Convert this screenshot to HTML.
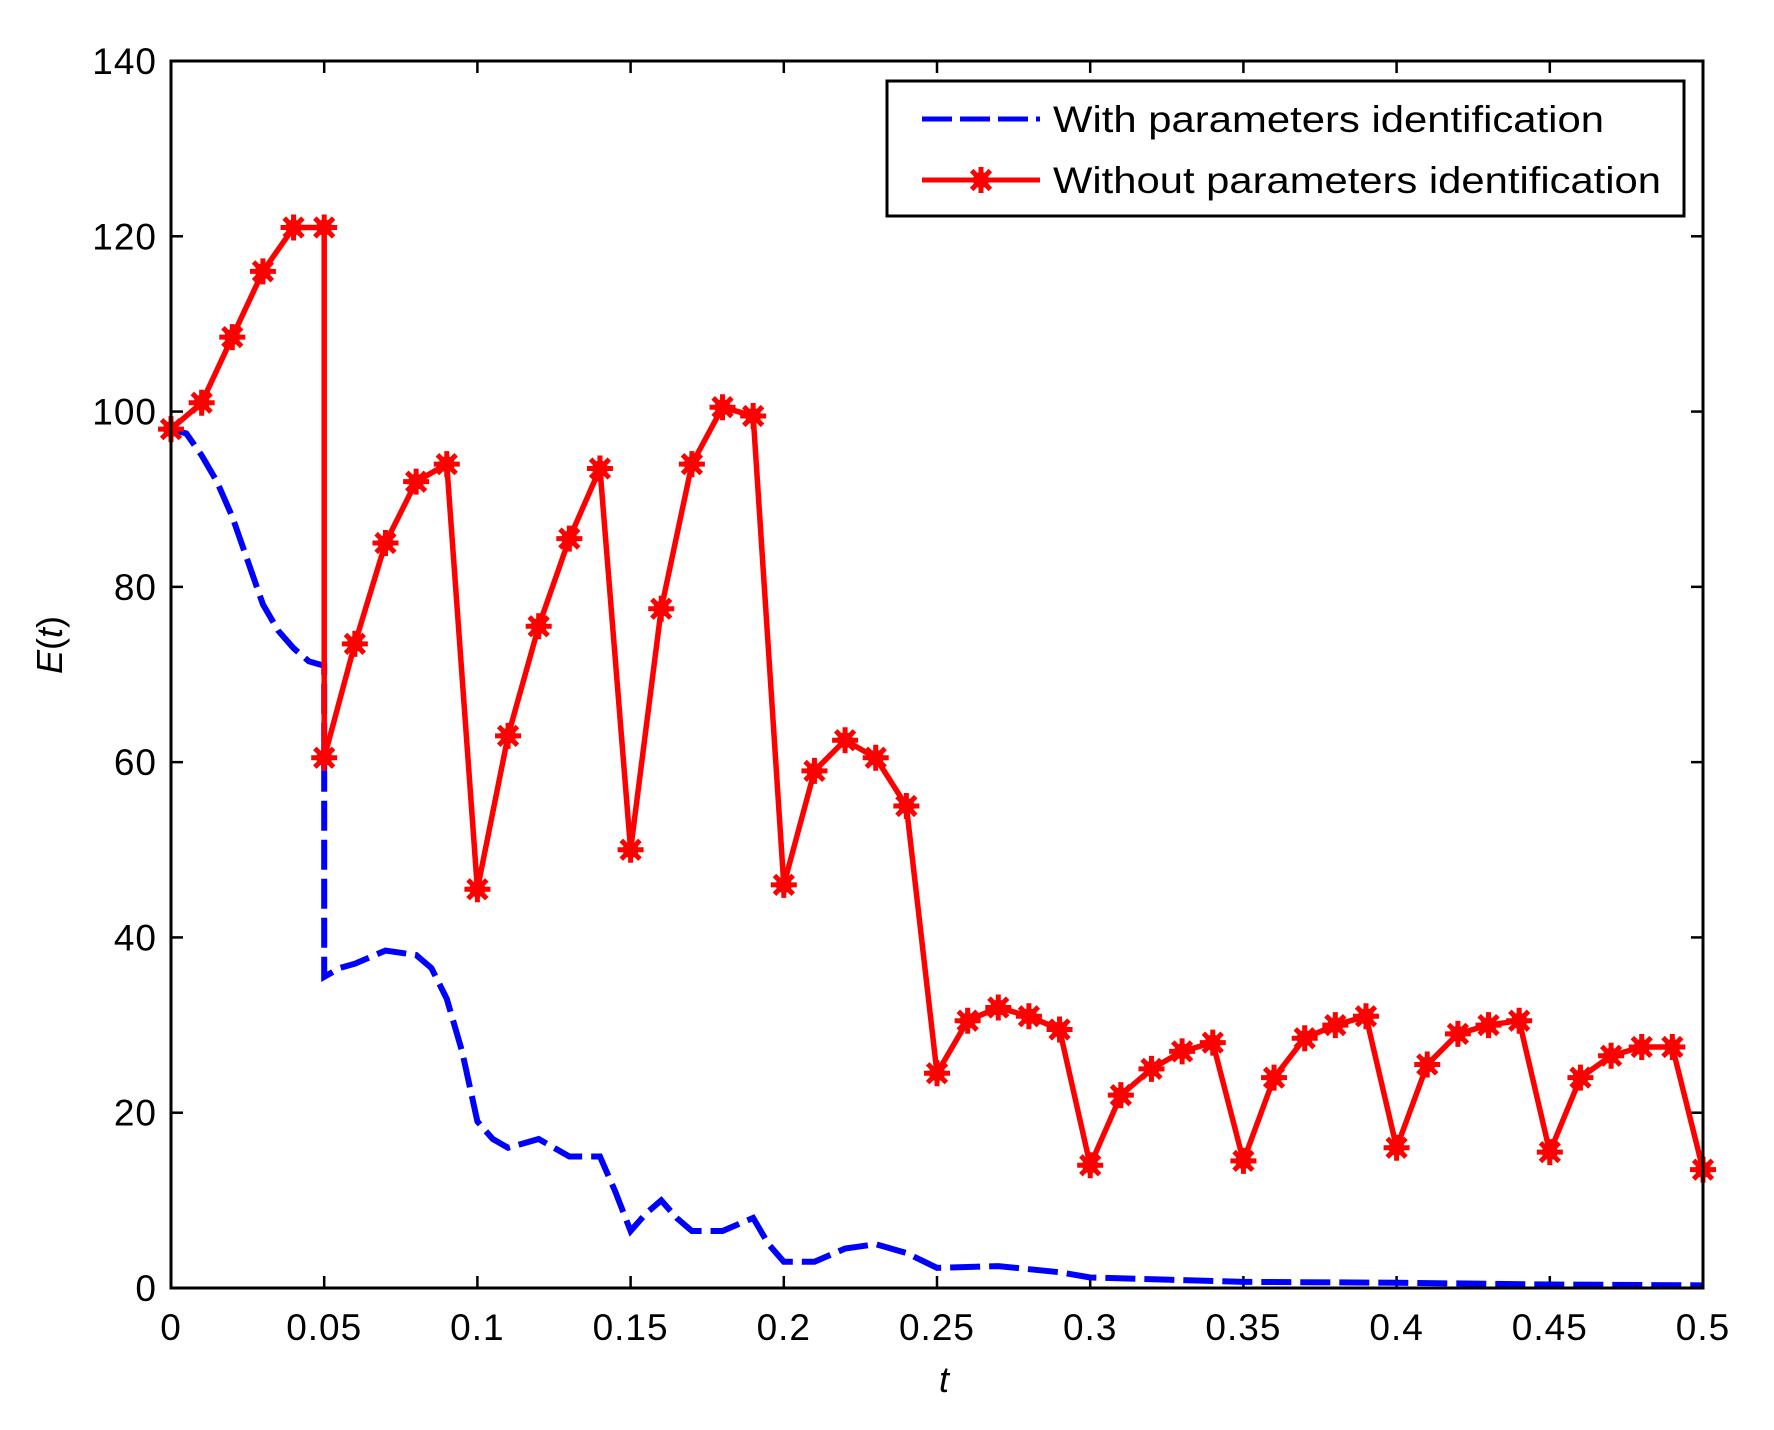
<!DOCTYPE html>
<html><head><meta charset="utf-8"><style>
html,body{margin:0;padding:0;background:#fff}
svg{display:block}
text{font-family:"Liberation Sans",sans-serif;fill:#000}
</style></head><body>
<svg id="s" width="1774" height="1430" viewBox="0 0 1774 1430" xmlns="http://www.w3.org/2000/svg">
<rect width="1774" height="1430" fill="#fff"/>
<g id="ticks"></g>
<g id="series"></g>
<rect x="171" y="61" width="1532" height="1227" fill="none" stroke="#000" stroke-width="3"/>
<text x="944" y="1392" font-size="36" font-style="italic" text-anchor="middle">t</text>
<text transform="translate(62,645) rotate(-90)" font-size="36" text-anchor="middle"><tspan font-style="italic">E</tspan>(<tspan font-style="italic">t</tspan>)</text>
<rect x="887" y="81" width="797" height="135" fill="#fff" stroke="#000" stroke-width="3"/>
<line x1="922" y1="119" x2="1040" y2="119" stroke="#0000ff" stroke-width="5" stroke-dasharray="30,8"/>
<line x1="922" y1="180" x2="1040" y2="180" stroke="#ff0000" stroke-width="5"/>
<g id="lgm"></g>
<text x="1053" y="132" font-size="37" textLength="551" lengthAdjust="spacingAndGlyphs">With parameters identification</text>
<text x="1053" y="193" font-size="37" textLength="608" lengthAdjust="spacingAndGlyphs">Without parameters identification</text>
</svg>
<script>
var NS="http://www.w3.org/2000/svg";
function X(t){return 171+t/0.5*1532;}
function Y(v){return 1288-v*1227/140;}
function el(n,a,p){var e=document.createElementNS(NS,n);for(var k in a)e.setAttribute(k,a[k]);(p||document.getElementById('series')).appendChild(e);if(a.text){e.textContent=a.text;e.removeAttribute('text');}return e;}
var tk=document.getElementById('ticks');
for(var i=0;i<=10;i++){var x=X(i*0.05);
 el('line',{x1:x,y1:1288,x2:x,y2:1276,stroke:'#000','stroke-width':2.5},tk);
 el('line',{x1:x,y1:61,x2:x,y2:73,stroke:'#000','stroke-width':2.5},tk);
 var lab=i==0?'0':(i%2==0?(i*0.05).toFixed(1):(i*0.05).toFixed(2));
 el('text',{x:x,y:1340,'font-size':37,'letter-spacing':1,'text-anchor':'middle',text:lab},tk);}
for(var v=0;v<=140;v+=20){var y=Y(v);
 el('line',{x1:171,y1:y,x2:183,y2:y,stroke:'#000','stroke-width':2.5},tk);
 el('line',{x1:1703,y1:y,x2:1691,y2:y,stroke:'#000','stroke-width':2.5},tk);
 el('text',{x:157,y:y+13,'font-size':37,'letter-spacing':1,'text-anchor':'end',text:String(v)},tk);}
var blue=[[0,98],[0.005,97.5],[0.01,95],[0.015,92],[0.02,88],[0.025,83],[0.03,78],[0.035,75],[0.04,73],[0.045,71.5],[0.05,71],[0.05,35.5],[0.055,36.5],[0.06,37],[0.07,38.5],[0.08,38],[0.085,36.5],[0.09,33],[0.095,27],[0.1,19],[0.105,17],[0.11,16],[0.12,17],[0.13,15],[0.14,15],[0.145,11],[0.15,6.5],[0.155,8.5],[0.16,10],[0.165,8],[0.17,6.5],[0.18,6.5],[0.19,8],[0.195,5],[0.2,3],[0.21,3],[0.22,4.5],[0.23,5],[0.24,4],[0.25,2.3],[0.27,2.5],[0.29,1.8],[0.3,1.2],[0.35,0.7],[0.4,0.6],[0.45,0.4],[0.5,0.3]];
el('polyline',{points:blue.map(function(p){return X(p[0])+','+Y(p[1]);}).join(' '),fill:'none',stroke:'#0000ff','stroke-width':6,'stroke-dasharray':'30,9'});
var rv=[98,101,108.5,116,121,121,60.5,73.5,85,92,94,45.5,63,75.5,85.5,93.5,50,77.5,94,100.5,99.5,46,59,62.5,60.5,55,24.5,30.5,32,31,29.5,14,22,25,27,28,14.5,24,28.5,30,31,16,25.5,29,30,30.5,15.5,24,26.5,27.5,27.5,13.5];
var red=[];for(var i=0;i<rv.length;i++){var t=i<=5?i*0.01:(i-1)*0.01;red.push([t,rv[i]]);}
el('polyline',{points:red.map(function(p){return X(p[0])+','+Y(p[1]);}).join(' '),fill:'none',stroke:'#ff0000','stroke-width':5.5,'stroke-linejoin':'round'});
function star(cx,cy,g){var r=13;var d='M'+(cx-r)+','+cy+'h'+2*r+'M'+cx+','+(cy-r)+'v'+2*r+'M'+(cx-r*0.72)+','+(cy-r*0.72)+'l'+1.44*r+','+1.44*r+'M'+(cx-r*0.72)+','+(cy+r*0.72)+'l'+1.44*r+','+(-1.44*r);
 el('path',{d:d,stroke:'#ff0000','stroke-width':5,fill:'none'},g);el('circle',{cx:cx,cy:cy,r:8,fill:'#ff0000'},g);}
red.forEach(function(p){star(X(p[0]),Y(p[1]));});
star(981,180,document.getElementById('lgm'));
</script>
</body></html>
